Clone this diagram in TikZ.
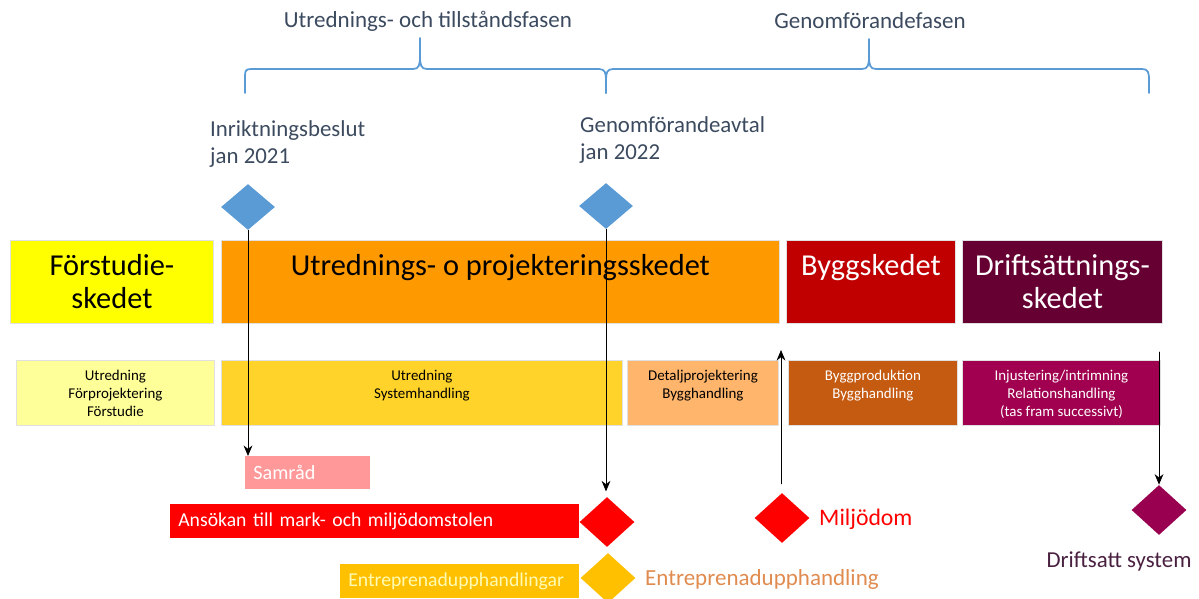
\documentclass[tikz,border=0pt]{standalone}
\usepackage{fontspec}
\setmainfont{Carlito}
\usetikzlibrary{arrows.meta,shapes.geometric}
\definecolor{bracebla}{HTML}{5B9BD5}
\definecolor{textgra}{HTML}{3B4A5E}
\definecolor{fsgul}{HTML}{FFFF00}
\definecolor{uporange}{HTML}{FF9900}
\definecolor{byggrod}{HTML}{C00000}
\definecolor{driftvin}{HTML}{660033}
\definecolor{ljusgul}{HTML}{FFFF99}
\definecolor{guld}{HTML}{FFD32A}
\definecolor{ljusorange}{HTML}{FFB56B}
\definecolor{brunorange}{HTML}{C55A11}
\definecolor{magenta}{HTML}{A0004F}
\definecolor{rosa}{HTML}{FF9999}
\definecolor{rod}{HTML}{FF0000}
\definecolor{gulorange}{HTML}{FFC000}
\definecolor{lila}{HTML}{990050}
\definecolor{laxtext}{HTML}{E08B4F}
\definecolor{drifttext}{HTML}{4A2040}
\begin{document}
\begin{tikzpicture}[line cap=round,line join=round,>={Stealth[length=6pt,width=5pt]},x=0.02cm,y=-0.02cm,
  stage/.style={anchor=north west,inner sep=0,minimum height=1.66cm,draw=black!12,line width=0.5pt},
  stagetext/.style={anchor=north,inner sep=0,yshift=-0.28cm,align=center,font=\fontsize{17.3}{19}\selectfont},
  sub/.style={anchor=north west,inner sep=0,minimum height=1.3cm,draw=black!12,line width=0.5pt},
  subtext/.style={anchor=north,inner sep=0,yshift=-0.2cm,align=center,font=\fontsize{8.5}{10.2}\selectfont},
  bar/.style={anchor=north west,inner xsep=0.16cm,inner ysep=0,minimum height=0.68cm,align=left,text=white,font=\fontsize{11.2}{13}\selectfont},
  milestone/.style={diamond,inner sep=0,minimum width=1.1cm,minimum height=1cm},
  fas/.style={text=textgra,font=\fontsize{13.1}{15.3}\selectfont},
  brace/.style={draw=bracebla,line width=1pt}]
\clip (0,0) rectangle (1199,598);
% faser
\node[fas] (fas1) at (428,21) {Utrednings- och tillståndsfasen};
\node[fas] (fas2) at (870,21) {Genomförandefasen};
\draw[brace] (245,93) -- (245,76) .. controls (245,70) and (246,69) .. (252,69) -- (413,69) .. controls (419,69) and (420,65) .. (420,56) -- (420,38) -- (420,56) .. controls (420,65) and (421,69) .. (427,69) -- (599,69) .. controls (605,69) and (606,73) .. (606,80) -- (606,93);
\draw[brace] (606,93) -- (606,80) .. controls (606,73) and (607,69) .. (613,69) -- (862,69) .. controls (868,69) and (869,65) .. (869,56) -- (869,39) -- (869,56) .. controls (869,65) and (870,69) .. (876,69) -- (1142,69) .. controls (1148,69) and (1149,72) .. (1149,80) -- (1149,93);
% beslut
\node[fas,anchor=west,align=left,font=\fontsize{13}{15.3}\selectfont] (inrtext) at (204,144) {Inriktningsbeslut\\jan 2021};
\node[fas,anchor=west,align=left,font=\fontsize{13}{15.3}\selectfont] (avtaltext) at (574,140) {Genomförandeavtal\\jan 2022};
\node[milestone,fill=bracebla,minimum width=1.08cm,minimum height=0.92cm] (inr) at (248,207) {};
\node[milestone,fill=bracebla,minimum width=1.08cm,minimum height=0.92cm] (avtal) at (606,206) {};
% skeden
\node[stage,fill=fsgul,minimum width=4.06cm,label={[stagetext]north:Förstudie-\\skedet}] (fs) at (10,240) {};
\node[stage,fill=uporange,minimum width=11.16cm,label={[stagetext]north:Utrednings- o projekteringsskedet}] (up) at (221,240) {};
\node[stage,fill=byggrod,minimum width=3.38cm,label={[stagetext,text=white]north:Byggskedet}] (bygg) at (786,240) {};
\node[stage,fill=driftvin,minimum width=4cm,label={[stagetext,text=white]north:Driftsättnings-\\skedet}] (drift) at (962,240) {};
% handlingar
\node[sub,fill=ljusgul,minimum width=3.96cm,label={[subtext]north:Utredning\\Förprojektering\\Förstudie}] (fsinn) at (16,360) {};
\node[sub,fill=guld,minimum width=8.02cm,label={[subtext]north:Utredning\\Systemhandling}] (upinn) at (221,360) {};
\node[sub,fill=ljusorange,minimum width=3.02cm,label={[subtext]north:Detaljprojektering\\Bygghandling}] (detalj) at (627,360) {};
\node[sub,fill=brunorange,minimum width=3.38cm,label={[subtext,text=white]north:Byggproduktion\\Bygghandling}] (byggprod) at (788,360) {};
\node[sub,fill=magenta,minimum width=3.96cm,label={[subtext,text=white]north:Injustering/intrimning\\Relationshandling\\(tas fram successivt)}] (injust) at (962,360) {};
% tillstand och upphandling
\node[bar,fill=rosa,text width=2.18cm,minimum height=0.66cm,font=\fontsize{11.5}{13}\selectfont] (samrad) at (245,456) {Samråd};
\node[bar,fill=rod,text width=7.86cm] (ansokan) at (170,504) {Ansökan till mark- och miljödomstolen};
\node[bar,fill=gulorange,text width=4.46cm,text=yellow!30] (entrep) at (340,564) {Entreprenadupphandlingar};
\node[milestone,fill=rod] (ansokdia) at (607,522) {};
\node[milestone,fill=gulorange] (entrepdia) at (608,578) {};
\node[milestone,fill=rod] (miljo) at (782,518) {};
\node[milestone,fill=lila] (driftdia) at (1159,510) {};
\node[anchor=west,text=laxtext,font=\fontsize{13.1}{15}\selectfont] (entreptext) at (639,579) {Entreprenadupphandling};
\node[anchor=west,text=rod,font=\fontsize{13.5}{15}\selectfont] (miljotext) at (813,519) {Miljödom};
\node[text=drifttext,font=\fontsize{13}{15}\selectfont] (drifttxt) at (1119,561) {Driftsatt system};
% pilar
\coordinate (upp) at (781,350);
\coordinate (dstart) at (1159,352);
\draw[->] (inr.south) -- (inr.south |- samrad.north);
\draw[->,shorten >=3pt] (avtal.south) -- (avtal.south |- ansokdia.north);
\draw[->,shorten <=5pt] (miljo.north -| upp) -- (upp);
\draw[->] (dstart) -- (driftdia.north);
\end{tikzpicture}
\end{document}
